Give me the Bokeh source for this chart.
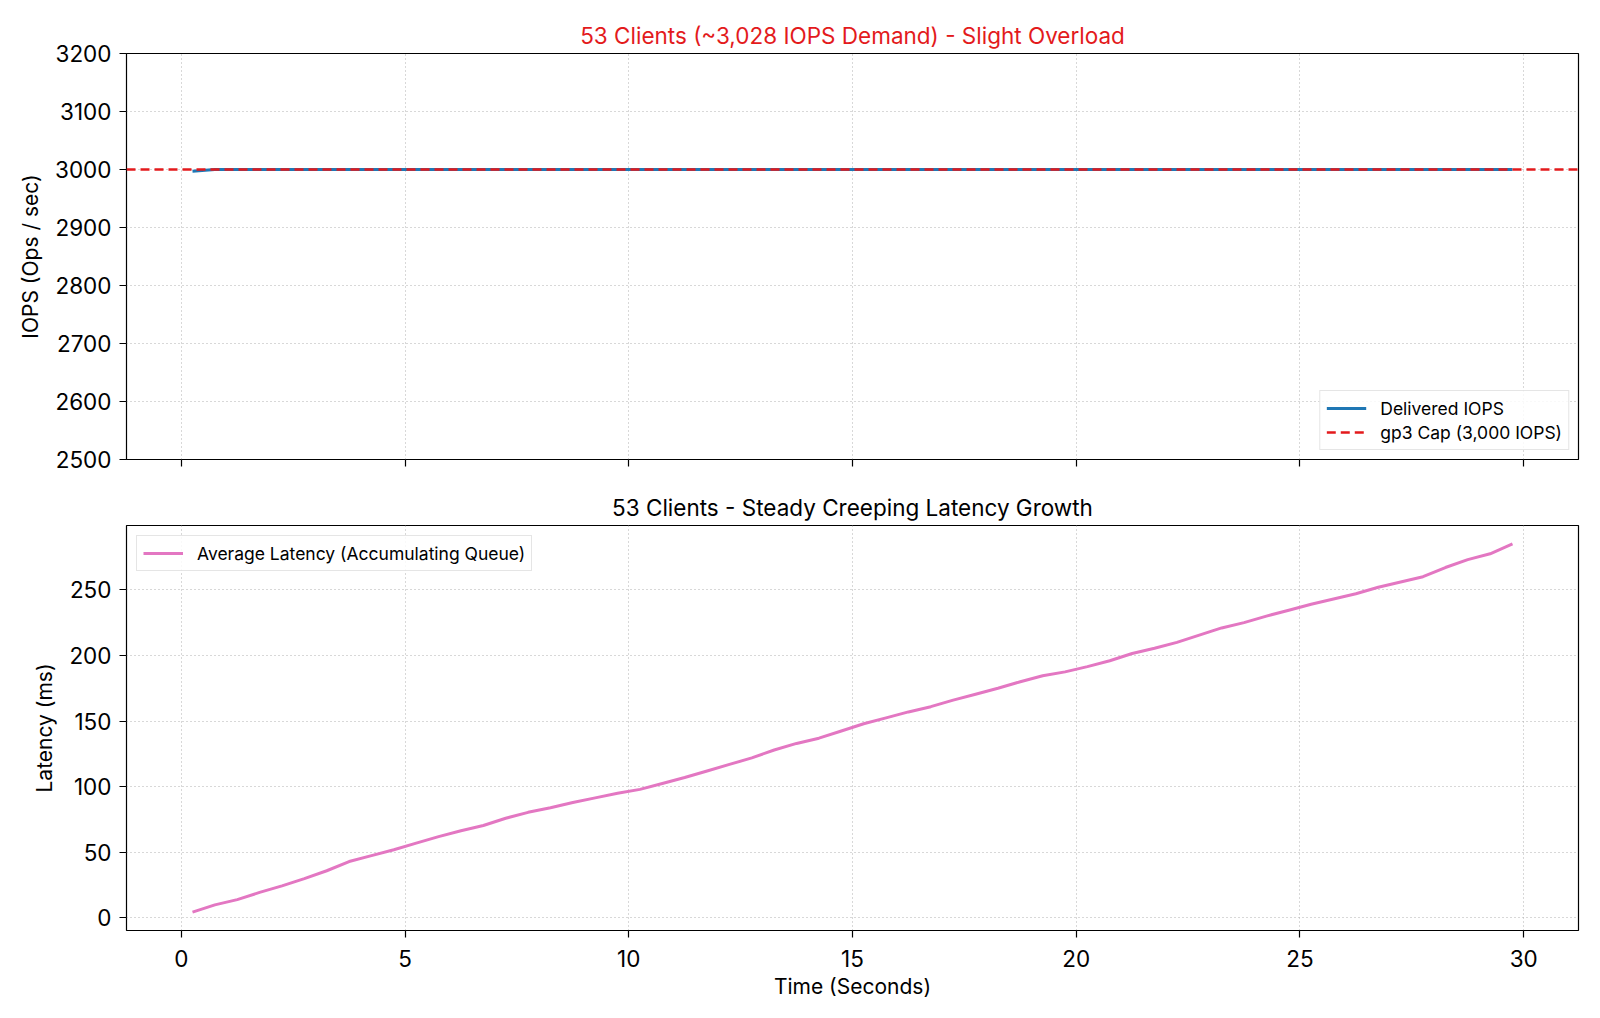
from bokeh.plotting import figure
from bokeh.layouts import column
from bokeh.models import Range1d, SingleIntervalTicker, Legend, LegendItem, CustomJSTickFormatter
from bokeh.embed import file_html
from bokeh.resources import INLINE

# ---- data ----
time_s = [0.25, 0.75, 1.25, 1.75, 2.25, 2.75, 3.25, 3.75, 4.25, 4.75,
          5.25, 5.75, 6.25, 6.75, 7.25, 7.75, 8.25, 8.75, 9.25, 9.75,
          10.25, 10.75, 11.25, 11.75, 12.25, 12.75, 13.25, 13.75, 14.25, 14.75,
          15.25, 15.75, 16.25, 16.75, 17.25, 17.75, 18.25, 18.75, 19.25, 19.75,
          20.25, 20.75, 21.25, 21.75, 22.25, 22.75, 23.25, 23.75, 24.25, 24.75,
          25.25, 25.75, 26.25, 26.75, 27.25, 27.75, 28.25, 28.75, 29.25, 29.75]

delivered_iops = [2997, 3000, 3000, 3000, 3000, 3000, 3000, 3000, 3000, 3000,
                  3000, 3000, 3000, 3000, 3000, 3000, 3000, 3000, 3000, 3000,
                  3000, 3000, 3000, 3000, 3000, 3000, 3000, 3000, 3000, 3000,
                  3000, 3000, 3000, 3000, 3000, 3000, 3000, 3000, 3000, 3000,
                  3000, 3000, 3000, 3000, 3000, 3000, 3000, 3000, 3000, 3000,
                  3000, 3000, 3000, 3000, 3000, 3000, 3000, 3000, 3000, 3000]

latency_ms = [4.5, 10, 14, 19.5, 24.5, 30, 36, 43, 47.5, 52,
              57, 62, 66.5, 70.5, 76, 80.5, 84, 88, 91.5, 95,
              98, 102.5, 107, 112, 117, 122, 128, 133, 137, 142.5,
              148, 152.5, 157, 161, 166, 170.5, 175, 180, 184.5, 187.5,
              191.5, 196, 201.5, 205.5, 210, 215.5, 221, 225, 230, 234.5,
              239, 243, 247, 252, 256, 260, 267, 273, 277.5, 285]

gp3_cap = 3000
iops_ylim = (2500, 3200)

title_top = "53 Clients (~3,028 IOPS Demand) - Slight Overload"
title_bottom = "53 Clients - Steady Creeping Latency Growth"
label_iops = "IOPS (Ops / sec)"
label_latency = "Latency (ms)"
label_time = "Time (Seconds)"
legend_delivered = "Delivered IOPS"
legend_cap = "gp3 Cap (3,000 IOPS)"
legend_latency = "Average Latency (Accumulating Queue)"

# ---- style ----
FONT = "Inter"
BLUE = "#1f77b4"
PINK = "#e377c2"
RED = "#e31a1c"

tmin, tmax = min(time_s), max(time_s)
tpad = 0.05 * (tmax - tmin)
lmin, lmax = min(latency_ms), max(latency_ms)
lpad = 0.05 * (lmax - lmin)

W = 1592
BL = 126
BR = 14


def style(p, show_xlabels):
    p.outline_line_color = "black"
    p.outline_line_width = 1.2
    p.outline_line_alpha = 1
    for ax in (p.xaxis[0], p.yaxis[0]):
        ax.axis_line_color = None
        ax.major_tick_out = 7
        ax.major_tick_in = 0
        ax.minor_tick_line_color = None
        ax.major_tick_line_color = "black"
        ax.major_tick_line_width = 1.2
        ax.major_label_text_font = FONT
        ax.major_label_text_font_size = "22.5px"
        ax.major_label_text_color = "black"
        ax.axis_label_text_font = FONT
        ax.axis_label_text_font_size = "21px"
        ax.axis_label_text_font_style = "normal"
        ax.axis_label_text_color = "black"
        ax.major_label_standoff = 8
        ax.axis_label_standoff = 9
    p.xaxis[0].major_label_standoff = 12
    p.xaxis[0].axis_label_standoff = 4
    if not show_xlabels:
        p.xaxis[0].formatter = CustomJSTickFormatter(code="return ''")
        p.xaxis[0].major_label_text_font_size = "1px"
        p.xaxis[0].major_label_standoff = 0
    for g in (p.xgrid[0], p.ygrid[0]):
        g.grid_line_color = "#b0b0b0"
        g.grid_line_dash = "1 3"
        g.grid_line_width = 1
    p.title.text_font = FONT
    p.title.text_font_size = "22.5px"
    p.title.text_font_style = "normal"
    p.title.align = "center"
    p.title.standoff = 10


# ---- top figure ----
p1 = figure(width=W, height=482, output_backend="svg", toolbar_location=None,
            x_range=Range1d(tmin - tpad, tmax + tpad),
            y_range=Range1d(*iops_ylim),
            min_border_left=BL, min_border_right=BR,
            min_border_top=53, min_border_bottom=23,
            title=title_top)
p1.xaxis.ticker = SingleIntervalTicker(interval=5)
p1.yaxis.ticker = SingleIntervalTicker(interval=100)
p1.yaxis.axis_label = label_iops
style(p1, False)
p1.title.text_color = RED

r_iops = p1.line(time_s, delivered_iops, line_color=BLUE, line_width=2.8)
r_cap = p1.line([p1.x_range.start, p1.x_range.end], [gp3_cap, gp3_cap],
                line_color=RED, line_width=2.4, line_dash="9 5")

leg1 = Legend(items=[LegendItem(label=legend_delivered, renderers=[r_iops]),
                     LegendItem(label=legend_cap, renderers=[r_cap])],
              location="bottom_right")
p1.add_layout(leg1)

# ---- bottom figure ----
p2 = figure(width=W, height=528, output_backend="svg", toolbar_location=None,
            x_range=Range1d(tmin - tpad, tmax + tpad),
            y_range=Range1d(lmin - lpad, lmax + lpad),
            min_border_left=BL, min_border_right=BR,
            min_border_top=43, min_border_bottom=80,
            title=title_bottom)
p2.xaxis.ticker = SingleIntervalTicker(interval=5)
p2.yaxis.ticker = SingleIntervalTicker(interval=50)
p2.yaxis.axis_label = label_latency
p2.xaxis.axis_label = label_time
style(p2, True)
p2.title.text_color = "black"

r_lat = p2.line(time_s, latency_ms, line_color=PINK, line_width=3)
leg2 = Legend(items=[LegendItem(label=legend_latency, renderers=[r_lat])],
              location="top_left")
p2.add_layout(leg2)

for lg in (leg1, leg2):
    lg.label_text_font = FONT
    lg.label_text_font_size = "17.5px"
    lg.label_text_color = "black"
    lg.border_line_color = "#cccccc"
    lg.border_line_width = 1.2
    lg.background_fill_alpha = 0.85
    lg.padding = 6
    lg.spacing = 2
    lg.margin = 9
    lg.glyph_width = 40
    lg.glyph_height = 22
    lg.label_height = 22
    lg.label_standoff = 14
leg2.margin = 10

lay = column(p1, p2, spacing=0)
open("out.html", "w").write(file_html(lay, INLINE))
